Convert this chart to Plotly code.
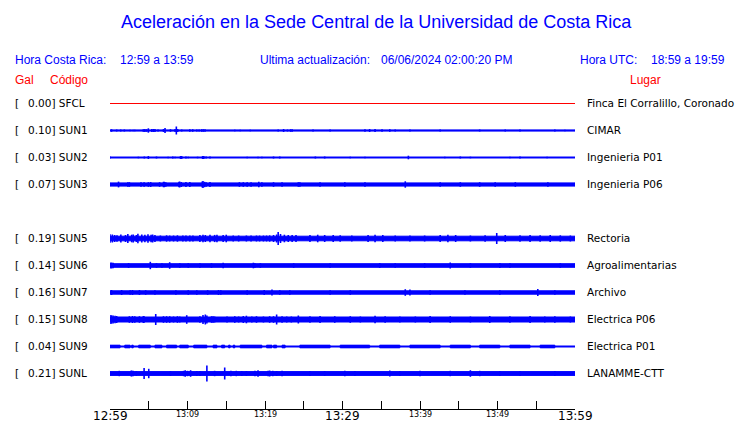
import plotly.graph_objects as go

# ---------------- data ----------------
codes = ["SFCL", "SUN1", "SUN2", "SUN3", "SUN4", "SUN5", "SUN6", "SUN7", "SUN8", "SUN9", "SUNL"]
peak_gal = [0.00, 0.10, 0.03, 0.07, None, 0.19, 0.14, 0.16, 0.15, 0.04, 0.21]
places = ["Finca El Corralillo, Coronado", "CIMAR", "Ingenieria P01", "Ingenieria P06", None,
          "Rectoria", "Agroalimentarias", "Archivo", "Electrica P06", "Electrica P01", "LANAMME-CTT"]

# base (background noise) half amplitude of each trace, in display units
base_amp = {"SFCL": 0.0, "SUN1": 0.6, "SUN2": 0.5, "SUN3": 1.6, "SUN5": 2.3, "SUN6": 1.8,
            "SUN7": 1.7, "SUN8": 2.5, "SUN9": 0.5, "SUNL": 1.9}

# spikes: minutes after 12:59 and half amplitude
sun1_t = [0.2, 0.86, 1.38, 1.85, 2.58, 3.0, 3.2, 4.3, 4.5, 4.73, 4.95, 5.4, 5.6, 5.8, 6.2, 6.9, 7.1, 7.8,
          8.4, 8.56, 8.73, 9.25, 10.3, 10.67, 11.2, 11.5, 11.83, 12.04, 12.26, 16.1, 16.8, 18.1, 21.7, 22.4,
          22.9, 23.3, 23.5, 26.2, 28.4, 32.9, 33.5, 34.2, 35.1, 36.1, 36.8, 38.7, 42.6, 47.7, 51.0, 52.9,
          57.4, 58.7]
sun1_a = [1.3, 1.0, 1.0, 1.0, 0.7, 0.7, 0.7, 1.3, 1.5, 1.3, 2.2, 1.5, 1.5, 1.5, 1.0, 1.5, 2.5, 1.3,
          1.5, 4.0, 1.5, 1.0, 1.3, 1.3, 1.0, 1.0, 1.3, 1.3, 1.3, 0.8, 0.8, 0.8, 1.0, 1.5,
          1.0, 1.3, 1.3, 1.0, 1.0, 1.3, 1.5, 1.5, 1.3, 1.3, 1.0, 1.0, 1.0, 1.0, 1.0, 1.0,
          1.0, 0.8]

sun2_t = [0.0, 3.66, 4.43, 4.95, 6.0, 7.5, 8.1, 8.4, 9.1, 9.25, 9.8, 10.1, 11.3, 11.95, 12.1, 12.4, 12.9,
          17.7, 19.1, 19.6, 21.1, 21.9, 26.5, 27.7, 31.0, 32.9, 38.5, 43.2, 45.2, 46.5, 51.6, 52.9, 56.4]
sun2_a = [1.0, 0.8, 1.0, 1.5, 1.0, 0.8, 1.0, 0.8, 1.5, 1.5, 1.0, 0.8, 0.8, 1.5, 1.5, 1.0, 1.0,
          0.8, 0.8, 0.8, 1.0, 1.0, 1.0, 1.0, 0.8, 0.8, 1.8, 0.8, 1.0, 0.8, 0.8, 1.0, 0.8]

sun3_t = [1.1, 2.3, 2.5, 4.0, 4.4, 4.95, 5.25, 6.4, 6.9, 7.0, 7.2, 8.9, 9.0, 9.2, 9.8, 10.3, 11.9, 12.0,
          12.2, 12.4, 12.9, 16.7, 17.2, 17.7, 18.2, 19.2, 19.6, 21.1, 22.2, 24.3, 24.5, 27.1, 30.3, 32.9,
          38.1, 42.6, 45.2, 47.7, 49.7, 52.3, 56.5]
sun3_a = [2.9, 2.3, 2.3, 2.3, 2.3, 2.3, 2.5, 2.3, 2.7, 2.7, 2.3, 2.7, 2.9, 2.5, 2.5, 2.5, 3.0, 3.5,
          2.7, 2.3, 2.5, 2.3, 2.3, 2.3, 2.3, 2.7, 2.3, 2.3, 2.3, 2.3, 2.3, 2.3, 2.3, 2.3,
          3.2, 2.3, 2.3, 2.3, 2.3, 2.3, 2.3]

sun5_t = [0.0, 0.3, 0.6, 0.9, 1.4, 2.0, 2.3, 2.8, 3.0, 3.4, 3.6, 4.1, 4.5, 4.9, 5.3, 5.5, 5.8, 6.5, 7.3,
          7.7, 8.2, 8.7, 9.4, 9.8, 10.3, 10.7, 11.6, 12.0, 12.3, 12.9, 13.5, 13.8, 14.6, 15.0, 15.9, 16.6,
          17.6, 18.2, 18.9, 19.3, 19.8, 20.2, 20.6, 21.1, 21.5, 21.7, 22.0, 22.5, 23.0, 23.5, 24.0, 25.8,
          26.8, 27.7, 28.8, 29.7, 31.2, 33.3, 34.2, 35.2, 36.8, 38.7, 40.6, 42.6, 43.6, 44.6, 46.5, 48.4,
          49.9, 51.0, 52.9, 54.2, 55.5, 56.8, 58.1, 59.4]
sun5_a = [4.2, 4.0, 3.5, 3.3, 4.0, 3.5, 4.5, 3.8, 4.0, 3.5, 4.7, 4.0, 3.8, 4.2, 3.8, 4.0, 3.6, 3.0, 3.2,
          3.0, 3.0, 3.2, 3.0, 3.0, 3.0, 3.0, 3.5, 3.8, 3.5, 3.8, 3.6, 3.8, 3.6, 3.8, 3.0, 3.0,
          3.0, 3.0, 3.0, 3.0, 3.0, 3.0, 3.2, 3.5, 4.0, 6.5, 4.5, 3.8, 3.5, 3.5, 3.5, 3.5,
          3.8, 3.5, 3.5, 3.2, 3.0, 3.6, 3.8, 3.5, 3.0, 3.0, 3.0, 3.5, 3.8, 3.5, 3.0, 3.2,
          5.5, 3.5, 3.2, 3.5, 3.2, 3.5, 3.2, 3.0]

sun6_t = [0.0, 0.2, 0.4, 2.4, 5.2, 6.0, 6.7, 7.7, 9.0, 10.1, 11.6, 13.1, 14.6, 18.5, 18.7, 19.4, 23.7,
          28.4, 34.8, 36.8, 40.6, 43.9, 46.5, 50.3, 51.6, 58.1]
sun6_a = [3.0, 3.0, 2.8, 2.5, 3.7, 2.3, 2.3, 3.3, 2.3, 2.3, 2.3, 2.3, 2.8, 2.8, 2.3, 2.3, 2.3,
          2.3, 2.5, 2.3, 2.3, 3.0, 2.3, 2.5, 2.3, 2.3]

sun7_t = [0.2, 1.5, 2.6, 2.9, 3.8, 4.6, 5.8, 8.5, 10.1, 11.2, 12.6, 14.0, 14.3, 17.7, 19.9, 20.9, 21.9,
          23.2, 28.4, 31.0, 38.1, 38.7, 41.3, 45.8, 50.3, 55.2, 57.4]
sun7_a = [2.5, 2.5, 2.3, 2.5, 2.5, 2.3, 2.3, 2.3, 2.3, 2.3, 2.3, 2.5, 2.3, 2.3, 2.5, 3.0, 2.3,
          2.3, 2.3, 2.3, 3.3, 3.0, 2.3, 2.3, 2.3, 3.5, 2.3]

sun8_t = [0.0, 0.2, 0.4, 0.65, 0.86, 2.5, 2.9, 3.2, 3.8, 4.3, 4.4, 5.9, 6.9, 7.3, 7.7, 8.2, 8.7, 9.0, 9.9,
          11.6, 12.0, 12.3, 12.5, 13.1, 13.3, 13.5, 15.1, 16.1, 16.6, 17.2, 17.6, 18.3, 18.9, 19.8, 20.6,
          21.1, 21.5, 22.2, 22.8, 23.4, 24.3, 25.8, 27.1, 29.0, 31.0, 32.3, 34.2, 35.5, 37.4, 39.4, 41.3,
          43.9, 46.5, 49.0, 51.6, 54.2, 56.1, 57.4, 59.4]
sun8_a = [4.5, 4.3, 4.0, 3.8, 3.5, 3.3, 3.5, 3.2, 3.3, 3.5, 3.3, 5.5, 3.3, 3.3, 3.3, 3.0, 3.3, 3.0, 4.3,
          3.3, 4.5, 5.0, 4.0, 3.3, 3.3, 3.0, 3.0, 3.3, 3.0, 3.5, 3.8, 3.0, 3.3, 3.0, 3.3,
          3.3, 5.0, 3.3, 3.0, 3.0, 4.0, 3.3, 3.5, 3.3, 3.3, 3.0, 3.8, 3.3, 3.0, 3.0, 3.5,
          3.3, 3.0, 3.5, 3.3, 3.5, 3.0, 3.3, 3.0]

# SUN9: bursts (start minute, end minute), half amplitude of bursts
sun9_start = [0.0, 1.9, 2.8, 3.7, 5.8, 7.3, 9.0, 10.8, 13.3, 14.4, 15.3, 15.9, 16.8, 20.2, 21.1, 22.2,
              24.5, 29.7, 34.8, 38.7, 43.9, 47.7, 51.6, 55.5]
sun9_end = [1.3, 2.6, 3.0, 5.2, 6.7, 8.6, 10.1, 12.5, 13.8, 14.8, 15.5, 16.1, 19.6, 20.9, 21.5, 22.6,
            28.4, 33.5, 37.4, 42.6, 46.5, 50.3, 54.2, 57.4]
sun9_burst_amp = 1.4

sunl_t = [1.2, 2.7, 2.8, 3.0, 3.4, 4.4, 5.0, 7.8, 9.5, 9.7, 10.0, 10.4, 11.2, 11.6, 12.5, 13.5, 14.8,
          15.6, 16.3, 17.0, 17.6, 18.7, 19.1, 20.4, 20.6, 21.0, 21.5, 22.2, 25.8, 27.7, 30.3, 31.6, 36.1,
          37.4, 40.0, 43.9, 46.5, 47.7, 50.3, 52.9, 57.4]
sunl_a = [2.7, 2.7, 3.0, 2.7, 2.5, 5.5, 4.7, 2.5, 2.7, 3.3, 2.7, 3.3, 2.5, 2.5, 8.0, 2.7, 6.0,
          2.7, 2.7, 2.5, 2.5, 2.7, 3.3, 2.7, 3.0, 2.7, 2.5, 2.7, 2.5, 2.5, 2.7, 2.5, 3.0,
          2.5, 2.7, 2.7, 3.3, 2.7, 2.5, 2.5, 2.5]

spikes = {"SUN1": (sun1_t, sun1_a), "SUN2": (sun2_t, sun2_a), "SUN3": (sun3_t, sun3_a),
          "SUN5": (sun5_t, sun5_a), "SUN6": (sun6_t, sun6_a), "SUN7": (sun7_t, sun7_a),
          "SUN8": (sun8_t, sun8_a), "SUNL": (sunl_t, sunl_a)}

tick_minutes = list(range(0, 61, 5))
label_minutes = [0, 10, 20, 30, 40, 50, 60]
label_text = ["12:59", "13:09", "13:19", "13:29", "13:39", "13:49", "13:59"]
big_labels = {"12:59", "13:29", "13:59"}

t_start, t_end = 0, 60

# ---------------- layout helpers ----------------
W, H = 740, 423
L, R, T, B = 110, 165, 90, 14
ROW = 27  # px between rows
y_top = 13.5
y_bot = -(H - B - T - y_top)
BLUE = "#0000FF"
RED = "#FF0000"


def px_x(px):
    return (px - L) / (W - L - R)


def px_y(py):
    return (H - B - py) / (H - B - T)


def label(px, py, text, size, color, family, anchor="left"):
    return dict(x=px_x(px), y=px_y(py), xref="paper", yref="paper", xanchor=anchor,
                yanchor="middle", text=text, showarrow=False, borderpad=0, borderwidth=0,
                font=dict(family=family, size=size, color=color))


fig = go.Figure()

for i, code in enumerate(codes):
    if peak_gal[i] is None:
        continue
    c = -ROW * i
    if code == "SFCL":
        fig.add_trace(go.Scatter(x=[t_start, t_end], y=[c, c], mode="lines",
                                 line=dict(color=RED, width=1), hoverinfo="skip"))
        continue
    b = base_amp[code]
    fig.add_trace(go.Scatter(x=[t_start, t_end, t_end, t_start, t_start],
                             y=[c + b, c + b, c - b, c - b, c + b], mode="lines",
                             fill="toself", fillcolor=BLUE, line=dict(color=BLUE, width=1),
                             hoverinfo="skip"))
    if code == "SUN9":
        xs, ys = [], []
        for s, e in zip(sun9_start, sun9_end):
            xs += [s, e, e, s, s, None]
            ys += [c + sun9_burst_amp, c + sun9_burst_amp, c - sun9_burst_amp, c - sun9_burst_amp,
                   c + sun9_burst_amp, None]
        fig.add_trace(go.Scatter(x=xs, y=ys, mode="lines", fill="toself", fillcolor=BLUE,
                                 line=dict(color=BLUE, width=0.8), hoverinfo="skip"))
    if code in spikes:
        ts, amps = spikes[code]
        xs, ys = [], []
        for t, a in zip(ts, amps):
            xs += [t, t, None]
            ys += [c - a, c + a, None]
        fig.add_trace(go.Scatter(x=xs, y=ys, mode="lines", line=dict(color=BLUE, width=1.6),
                                 hoverinfo="skip"))

DV = "DejaVu Sans"
LS = "Liberation Sans, Arial, sans-serif"
ann = []
for i, code in enumerate(codes):
    if peak_gal[i] is None:
        continue
    py = 103 + ROW * i
    ann.append(label(15, py, "[", 10.5, "black", DV))
    ann.append(label(28, py, f"{peak_gal[i]:.2f}] {code}", 10.5, "black", DV))
    ann.append(label(587, py, places[i], 10.5, "black", DV))

for m, txt in zip(label_minutes, label_text):
    big = txt in big_labels
    ann.append(dict(x=m, y=px_y(416 if big else 414), xref="x", yref="paper", xanchor="center",
                    yanchor="middle", text=txt, showarrow=False, borderpad=0, borderwidth=0,
                    font=dict(family=DV, size=12 if big else 8, color="black")))

ann.append(label(376, 22, "Aceleración en la Sede Central de la Universidad de Costa Rica", 18, BLUE, LS,
                 anchor="center"))
for px, txt in [(15, "Hora Costa Rica:"), (120, "12:59 a 13:59"), (260, "Ultima actualización:"),
                (381, "06/06/2024 02:00:20 PM"), (580, "Hora UTC:"), (651, "18:59 a 19:59")]:
    ann.append(label(px, 60, txt, 12, BLUE, LS))
for px, txt in [(15, "Gal"), (50, "Código"), (630, "Lugar")]:
    ann.append(label(px, 80, txt, 12, RED, LS))

fig.update_layout(
    width=W, height=H, margin=dict(l=L, r=R, t=T, b=B, autoexpand=False),
    paper_bgcolor="white", plot_bgcolor="white", showlegend=False,
    annotations=ann,
    xaxis=dict(range=[t_start, t_end], showgrid=False, zeroline=False, showline=True,
               linecolor="black", linewidth=1, ticks="inside", ticklen=8, tickcolor="black",
               tickwidth=1, tickvals=tick_minutes, showticklabels=False, fixedrange=True),
    yaxis=dict(range=[y_bot, y_top], showgrid=False, zeroline=False, showline=False,
               showticklabels=False, ticks="", fixedrange=True),
)

fig.write_html("out.html", config={"displayModeBar": False},
               post_script="document.body.style.margin='0';")
